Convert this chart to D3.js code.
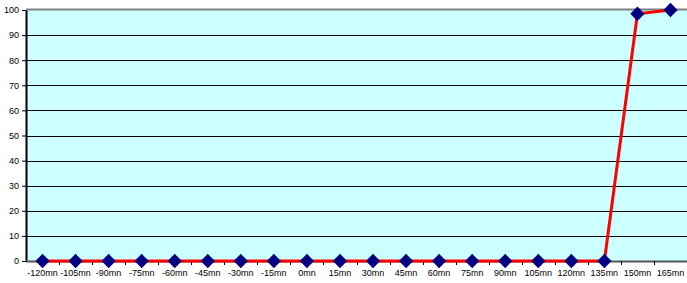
<!DOCTYPE html>
<html>
<head>
<meta charset="utf-8">
<script src="https://cdn.jsdelivr.net/npm/d3@7"></script>
<style>
  body { margin: 0; background: #fff; }
  svg { display: block; font-family: Arial, "Liberation Sans", sans-serif; }
</style>
</head>
<body>
<script>
// categories and values
const categories = ["-120mn", "-105mn", "-90mn", "-75mn", "-60mn", "-45mn", "-30mn", "-15mn", "0mn",
  "15mn", "30mn", "45mn", "60mn", "75mn", "90mn", "105mn", "120mn", "135mn", "150mn", "165mn"];
const values = [0, 0, 0, 0, 0, 0, 0, 0, 0, 0, 0, 0, 0, 0, 0, 0, 0, 0, 98.5, 100];
const yTicks = [0, 10, 20, 30, 40, 50, 60, 70, 80, 90, 100];

const W = 687, H = 283;
const margin = {top: 10, right: 0, bottom: 22, left: 26};
const width = W - margin.left - margin.right,
      height = H - margin.top - margin.bottom;

const svg = d3.select("body").append("svg")
  .attr("width", W)
  .attr("height", H);

const g = svg.append("g")
  .attr("transform", "translate(" + margin.left + "," + margin.top + ")");

const x = d3.scaleBand()
  .domain(categories)
  .range([0, width]);

const y = d3.scaleLinear()
  .domain([0, 100])
  .range([height, 0]);

// plot background
g.append("rect")
  .attr("width", width)
  .attr("height", height)
  .attr("fill", "#ccffff");

// horizontal gridlines
g.selectAll(".grid")
  .data(yTicks.filter(d => d > 0 && d < 100))
  .enter()
  .append("line")
  .attr("x1", 0)
  .attr("x2", width)
  .attr("y1", d => Math.round(y(d)) + 0.5)
  .attr("y2", d => Math.round(y(d)) + 0.5)
  .attr("stroke", "#000")
  .attr("stroke-width", 1);

// top border
g.append("line")
  .attr("x1", 0).attr("x2", width)
  .attr("y1", y(100) - 0.5).attr("y2", y(100) - 0.5)
  .attr("stroke", "#808080")
  .attr("stroke-width", 2);

// y axis
const yAxis = g.append("g")
  .call(d3.axisLeft(y).tickValues(yTicks).tickSize(4).tickSizeOuter(0).tickPadding(3));
yAxis.select(".domain").attr("stroke", "#000").attr("stroke-width", 2);
yAxis.selectAll("text").attr("font-size", "9px").attr("fill", "#000");

// x axis with ticks between categories
const xAxis = g.append("g")
  .attr("transform", "translate(0," + height + ")");
xAxis.append("line")
  .attr("x1", 0).attr("x2", width)
  .attr("y1", 0.5).attr("y2", 0.5)
  .attr("stroke", "#555")
  .attr("stroke-width", 2);
xAxis.selectAll(".xtick")
  .data(categories.slice(1))
  .enter()
  .append("line")
  .attr("x1", d => Math.round(x(d)) + 0.5)
  .attr("x2", d => Math.round(x(d)) + 0.5)
  .attr("y1", 0)
  .attr("y2", 4)
  .attr("stroke", "#000");
xAxis.selectAll(".xlabel")
  .data(categories)
  .enter()
  .append("text")
  .attr("x", d => x(d) + x.bandwidth() / 2)
  .attr("y", 15)
  .attr("text-anchor", "middle")
  .attr("font-size", "9px")
  .attr("fill", "#000")
  .text(d => d);

// series line
const line = d3.line()
  .x((d, i) => x(categories[i]) + x.bandwidth() / 2)
  .y(d => y(d));

g.append("path")
  .datum(values)
  .attr("fill", "none")
  .attr("stroke", "#ff0000")
  .attr("stroke-width", 3)
  .attr("d", line);

// diamond markers
g.selectAll(".pt")
  .data(values)
  .enter()
  .append("path")
  .attr("d", d3.symbol().type(d3.symbolDiamond2).size(130))
  .attr("transform", (d, i) => "translate(" + (x(categories[i]) + x.bandwidth() / 2) + "," + y(d) + ")")
  .attr("fill", "#000080");
</script>
</body>
</html>
